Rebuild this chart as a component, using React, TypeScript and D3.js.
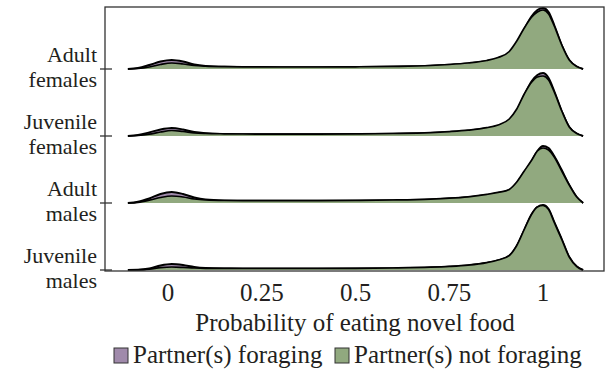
import React from "react";
import * as d3 from "d3";

const groups = ["Adult females", "Juvenile females", "Adult males", "Juvenile males"];
const groupLines = [["Adult", "females"], ["Juvenile", "females"], ["Adult", "males"], ["Juvenile", "males"]];
const seriesNames = ["Partner(s) foraging", "Partner(s) not foraging"];
const xTicks = [0, 0.25, 0.5, 0.75, 1];
const xTickLabels = ["0", "0.25", "0.5", "0.75", "1"];

// evaluation grid (probability)
const grid = [-0.107, -0.08, -0.05, -0.02, 0.01, 0.04, 0.07, 0.1, 0.15, 0.2, 0.3, 0.4, 0.5, 0.6, 0.7, 0.75, 0.8, 0.85, 0.88, 0.91, 0.93, 0.95, 0.97, 0.985, 1.0, 1.015, 1.03, 1.05, 1.07, 1.09, 1.107];

// density estimates (relative units)
const adultFemalesForaging = [0, 1, 4, 7.5, 9, 7.5, 4.5, 3, 2.2, 2, 1.9, 1.9, 2, 2.4, 3.2, 4.2, 5.5, 8, 10, 15, 25, 40, 53, 59, 61, 57, 44, 24, 9, 2.5, 0];
const adultFemalesNot = [0, 0.5, 2, 4.5, 6, 5, 3.5, 2.8, 2.3, 2.1, 2, 2, 2.2, 2.6, 3.5, 4.5, 6, 8.5, 11.5, 17.5, 28, 41, 52, 57, 59, 55, 43, 24, 9, 2.5, 0];
const juvFemalesForaging = [0, 1, 3.5, 6.5, 8, 6.5, 4, 2.8, 2.1, 1.9, 1.8, 1.8, 1.9, 2.3, 3.1, 4, 5.3, 7.8, 10, 15, 25, 41, 55, 61, 63, 58, 45, 25, 9, 2.5, 0];
const juvFemalesNot = [0, 0.5, 1.8, 4, 5.5, 4.5, 3.2, 2.6, 2.2, 2, 1.9, 1.9, 2.1, 2.5, 3.4, 4.4, 5.8, 8.3, 11, 17, 27, 42, 54, 59, 60, 56, 44, 25, 9, 2.5, 0];
const adultMalesForaging = [0, 1.2, 4.5, 9, 11, 9, 5.5, 3.5, 2.6, 2.4, 2.3, 2.3, 2.4, 2.8, 3.6, 4.5, 5.8, 8, 10, 13, 20, 31, 42, 52, 57, 55, 47, 33, 18, 6, 0];
const adultMalesNot = [0, 0.7, 2.8, 5.5, 7, 6, 4, 3, 2.5, 2.4, 2.4, 2.4, 2.6, 3, 3.9, 4.8, 6.2, 8.6, 10.6, 13.6, 21, 32, 43, 52, 55, 53, 46, 32, 18, 6, 0];
const juvMalesForaging = [0, 0.2, 1.5, 4.5, 6, 5, 3, 2, 1.6, 1.5, 1.5, 1.5, 1.6, 1.9, 2.6, 3.4, 4.6, 7, 9.5, 14, 24, 40, 56, 63, 65, 61, 48, 31, 13, 3.5, 0];
const juvMalesNot = [0, 0.1, 0.8, 2.3, 3, 2.6, 2, 1.7, 1.6, 1.5, 1.5, 1.5, 1.6, 2, 2.8, 3.6, 4.9, 7.4, 10, 14.5, 24.5, 40.5, 56, 63, 64.5, 60.5, 47.5, 30.5, 13, 3.5, 0];

const foraging = [adultFemalesForaging, juvFemalesForaging, adultMalesForaging, juvMalesForaging];
const notForaging = [adultFemalesNot, juvFemalesNot, adultMalesNot, juvMalesNot];

const colors = ["#a08aab", "#91a97f"];
const FONT = "Liberation Serif";
const TEXT = "#231f20";
const FS = 25;
const FS_Y = 22;

export default function App() {
  const W = 608, H = 376;
  const left = 105, right = 604, top = 7, bottom = 271;
  const x = d3.scaleLinear().domain([0, 1]).range([168, 543]);
  const y = d3.scalePoint<string>().domain(groups).range([69, 270]);
  const h = d3.scaleLinear().domain([0, 10]).range([0, 10]);

  const mk = (g: string) => {
    const base = y(g) as number;
    const area = d3.area<number>().x((_, i) => x(grid[i])).y0(base).y1((d) => base - h(d)).curve(d3.curveMonotoneX);
    const line = d3.line<number>().x((_, i) => x(grid[i])).y((d) => base - h(d)).curve(d3.curveMonotoneX);
    return { area, line, base };
  };

  return (
    <svg width={W} height={H} style={{ position: "absolute", left: 0, top: 0, background: "#fff" }} fontFamily={FONT}>
      {groups.map((g, gi) => {
        const { area, line } = mk(g);
        return (
          <g key={g}>
            <path d={area(foraging[gi]) || ""} fill={colors[0]} />
            <path d={line(foraging[gi]) || ""} fill="none" stroke="#000" strokeWidth={1.9} />
            <path d={area(notForaging[gi]) || ""} fill={colors[1]} />
            <path d={line(notForaging[gi]) || ""} fill="none" stroke="#000" strokeWidth={1.7} />
          </g>
        );
      })}
      <rect x={left} y={top} width={right - left} height={bottom - top} fill="none" stroke="#333" strokeWidth={1.3} />
      {groups.map((g, gi) => {
        const yy = y(g) as number;
        return (
          <g key={"t" + g}>
            <line x1={100} x2={112} y1={yy} y2={yy} stroke="#333" strokeWidth={1.3} />
            <text x={97} y={yy - 7} textAnchor="end" fontSize={FS_Y} fill={TEXT}>
              <tspan x={97} y={yy - 7}>{groupLines[gi][0]}</tspan>
              <tspan x={97} y={yy + 17.5}>{groupLines[gi][1]}</tspan>
            </text>
          </g>
        );
      })}
      {xTicks.map((t, i) => (
        <text key={t} x={x(t)} y={301} textAnchor="middle" fontSize={FS} fill={TEXT}>{xTickLabels[i]}</text>
      ))}
      <text x={355} y={331} textAnchor="middle" fontSize={FS} fill={TEXT}>Probability of eating novel food</text>
      <rect x={114} y={348} width={14} height={15} fill={colors[0]} stroke="#333" strokeWidth={1} />
      <text x={133} y={363} fontSize={FS} fill={TEXT}>{seriesNames[0]}</text>
      <rect x={335} y={348} width={14} height={15} fill={colors[1]} stroke="#333" strokeWidth={1} />
      <text x={354} y={363} fontSize={FS} fill={TEXT}>{seriesNames[1]}</text>
    </svg>
  );
}
